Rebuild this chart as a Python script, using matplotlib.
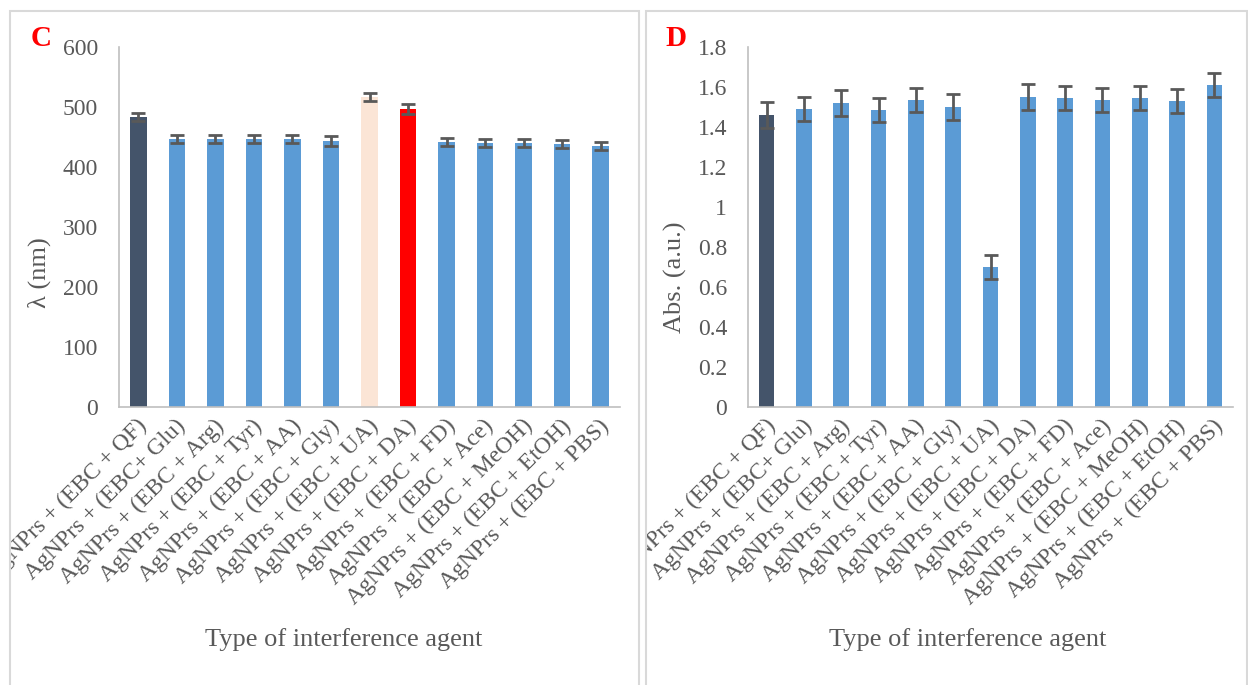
import matplotlib
matplotlib.use("Agg")
import matplotlib.pyplot as plt
from matplotlib.patches import Rectangle
from matplotlib.transforms import ScaledTranslation, Bbox

# Data
agents = ["AgNPrs + (EBC + QF)", "AgNPrs + (EBC+ Glu)", "AgNPrs + (EBC + Arg)",
          "AgNPrs + (EBC + Tyr)", "AgNPrs + (EBC + AA)", "AgNPrs + (EBC + Gly)",
          "AgNPrs + (EBC + UA)", "AgNPrs + (EBC + DA)", "AgNPrs + (EBC + FD)",
          "AgNPrs + (EBC + Ace)", "AgNPrs + (EBC + MeOH)", "AgNPrs + (EBC + EtOH)",
          "AgNPrs + (EBC + PBS)"]
wavelength = [483, 447, 447, 447, 447, 443, 517, 497, 442, 440, 440, 438, 435]
wavelength_err = [7, 7, 7, 7, 7, 8, 7, 8, 7, 7, 7, 7, 7]
absorbance = [1.46, 1.49, 1.52, 1.485, 1.535, 1.50, 0.70, 1.55, 1.545, 1.535, 1.545, 1.53, 1.61]
absorbance_err = [0.065, 0.06, 0.065, 0.062, 0.06, 0.063, 0.062, 0.065, 0.06, 0.06, 0.06, 0.06, 0.06]
colors_c = ["#44546A"] + ["#5B9BD5"] * 5 + ["#FBE5D6", "#FF0000"] + ["#5B9BD5"] * 5
colors_d = ["#44546A"] + ["#5B9BD5"] * 12
yticks_c = [0, 100, 200, 300, 400, 500, 600]
yticks_d = [0, 0.2, 0.4, 0.6, 0.8, 1.0, 1.2, 1.4, 1.6, 1.8]
yticklabels_d = ["0", "0.2", "0.4", "0.6", "0.8", "1", "1.2", "1.4", "1.6", "1.8"]

plt.rcParams["font.family"] = ["Liberation Serif", "DejaVu Serif"]
W, H = 1248, 685
fig = plt.figure(figsize=(W / 100, H / 100), dpi=100)
gray = "#595959"
fs = 17
fs_title = 19


def px_axes(x0, x1, y_top, y_bot):
    return fig.add_axes([x0 / W, 1 - y_bot / H, (x1 - x0) / W, (y_bot - y_top) / H])


def panel(x0, x1):
    r = Rectangle((x0 / W, -0.05), (x1 - x0) / W, 1.05 - 11 / H, transform=fig.transFigure,
                  fill=False, edgecolor="#D9D9D9", linewidth=1.5)
    fig.add_artist(r)
    return Bbox.from_extents(x0, -50, x1, H - 11)


def style(ax, clip):
    for s in ["top", "right"]:
        ax.spines[s].set_visible(False)
    for s in ["left", "bottom"]:
        ax.spines[s].set_color("#BFBFBF")
        ax.spines[s].set_linewidth(1.2)
    ax.tick_params(length=0, labelsize=fs, colors=gray)
    ax.tick_params(axis="y", pad=15)
    ax.tick_params(axis="x", pad=6)
    ax.set_xticks(range(len(agents)))
    ax.set_xticklabels(agents, rotation=45, ha="right", rotation_mode="anchor")
    off = ScaledTranslation(-2 / 100, 0, fig.dpi_scale_trans)
    for t in ax.get_xticklabels():
        t.set_transform(t.get_transform() + off)
        t.set_clip_box(clip)
    ax.set_xlim(-0.5, len(agents) - 0.5)
    ax.set_xlabel("Type of interference agent", fontsize=fs_title, color=gray)


# Panel C
clip_c = panel(10, 639)
ax1 = px_axes(119, 620, 47, 407)
ax1.bar(range(len(agents)), wavelength, width=0.43, color=colors_c, zorder=2)
ax1.errorbar(range(len(agents)), wavelength, yerr=wavelength_err, fmt="none",
             ecolor=gray, elinewidth=2, capsize=5, capthick=2, zorder=3)
ax1.set_ylim(0, 600)
ax1.set_yticks(yticks_c)
style(ax1, clip_c)
ax1.set_ylabel("λ (nm)", fontsize=fs_title, color=gray)
ax1.yaxis.set_label_coords(-0.135, 0.372)
ax1.xaxis.set_label_coords(0.448, -0.615)
fig.text(41 / W, 1 - 38 / H, "C", color="red", fontsize=21, fontweight="bold",
         ha="center", va="center")

# Panel D
clip_d = panel(646, 1247)
ax2 = px_axes(748, 1233, 47, 407)
ax2.bar(range(len(agents)), absorbance, width=0.42, color=colors_d, zorder=2)
ax2.errorbar(range(len(agents)), absorbance, yerr=absorbance_err, fmt="none",
             ecolor=gray, elinewidth=2, capsize=5, capthick=2, zorder=3)
ax2.set_ylim(0, 1.8)
ax2.set_yticks(yticks_d)
ax2.set_yticklabels(yticklabels_d)
style(ax2, clip_d)
ax2.set_ylabel("Abs. (a.u.)", fontsize=fs_title, color=gray)
ax2.yaxis.set_label_coords(-0.126, 0.361)
ax2.xaxis.set_label_coords(0.452, -0.615)
fig.text(676 / W, 1 - 38 / H, "D", color="red", fontsize=21, fontweight="bold",
         ha="center", va="center")

fig.savefig("out.png", dpi=100)
